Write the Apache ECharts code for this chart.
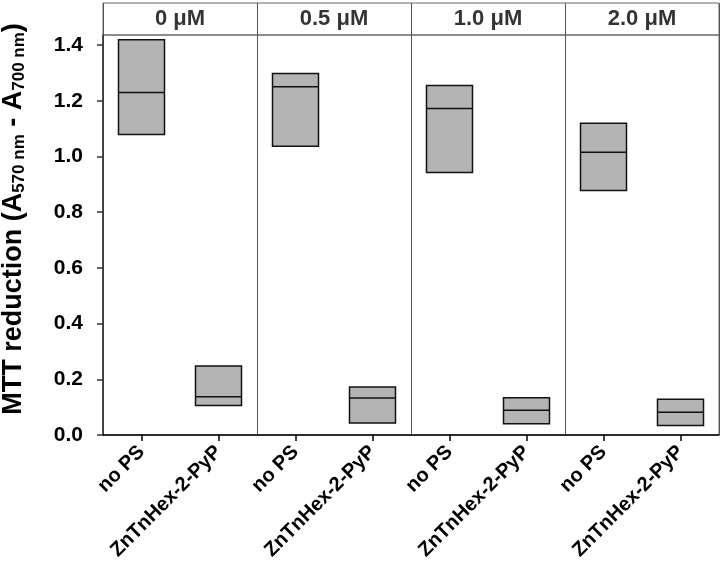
<!DOCTYPE html>
<html>
<head>
<meta charset="utf-8">
<script src="https://cdn.jsdelivr.net/npm/echarts@6/dist/echarts.min.js"></script>
<style>
html,body{margin:0;padding:0;background:#fff;}
#chart{width:722px;height:574px;}
</style>
</head>
<body>
<div id="chart"></div>
<script>
// ---- data ----
var categories = ['no PS', 'ZnTnHex-2-PyP', 'no PS', 'ZnTnHex-2-PyP', 'no PS', 'ZnTnHex-2-PyP', 'no PS', 'ZnTnHex-2-PyP'];
var panels = ['0 μM', '0.5 μM', '1.0 μM', '2.0 μM'];
var boxTop =    [1.419, 0.248, 1.298, 0.172, 1.255, 0.134, 1.119, 0.128];
var boxMedian = [1.230, 0.137, 1.250, 0.133, 1.172, 0.089, 1.015, 0.082];
var boxBottom = [1.079, 0.106, 1.037, 0.043, 0.942, 0.040, 0.878, 0.034];
var yTicks = [0, 0.2, 0.4, 0.6, 0.8, 1.0, 1.2, 1.4];
var yMax = 1.436;

// ---- build ----
var boxData = boxTop.map(function (t, i) {
  return [boxBottom[i], boxBottom[i], boxMedian[i], t, t];
});
var headerData = panels.map(function (p, i) { return [i, 0.5]; });

var FONT = 'Liberation Sans, Arial, sans-serif';
var chart = echarts.init(document.getElementById('chart'), null, {renderer: 'canvas'});
chart.setOption({
  animation: false,
  backgroundColor: '#fff',
  grid: [
    {left: 103, right: 3, top: 35, bottom: 139, show: true, borderColor: '#666', borderWidth: 1, containLabel: false, outerBoundsMode: 'none'},
    {left: 103, right: 3, top: 3, height: 32, show: true, borderColor: '#666', borderWidth: 1, containLabel: false, outerBoundsMode: 'none'}
  ],
  xAxis: [
    {
      type: 'category', gridIndex: 0, data: categories, boundaryGap: true,
      axisLine: {show: true, lineStyle: {color: '#000', width: 1.5}},
      axisTick: {show: true, alignWithLabel: true, length: 6, inside: false, lineStyle: {color: '#000', width: 1.5}},
      axisLabel: {rotate: 45, margin: 14, fontSize: 20, fontWeight: 'bold', fontFamily: FONT, color: '#000', interval: 0},
      splitLine: {show: false}
    },
    {
      type: 'category', gridIndex: 0, data: panels, position: 'top', boundaryGap: true,
      axisLine: {show: false}, axisTick: {show: false}, axisLabel: {show: false},
      splitLine: {show: true, interval: 0, lineStyle: {color: '#555', width: 1}}
    },
    {
      type: 'category', gridIndex: 1, data: panels, boundaryGap: true,
      axisLine: {show: false}, axisTick: {show: false}, axisLabel: {show: false},
      splitLine: {show: true, interval: 0, lineStyle: {color: '#555', width: 1}}
    }
  ],
  yAxis: [
    {
      type: 'value', gridIndex: 0, min: 0, max: yMax,
      name: 'MTT reduction (A{s|570 nm} - A{s|700 nm})',
      nameLocation: 'middle', nameGap: 75, nameRotate: 90,
      nameTextStyle: {
        fontSize: 27, fontWeight: 'bold', fontFamily: FONT, color: '#000',
        padding: [0, 0, 0, 32], lineHeight: 28,
        rich: {s: {fontSize: 17, fontWeight: 'bold', fontFamily: FONT, color: '#000', verticalAlign: 'bottom', lineHeight: 16}}
      },
      axisLine: {show: true, lineStyle: {color: '#333', width: 1.5}},
      axisTick: {show: true, length: 6, inside: false, customValues: yTicks, lineStyle: {color: '#333', width: 1.5}},
      axisLabel: {
        customValues: yTicks, margin: 20, fontSize: 21, fontWeight: 'bold', fontFamily: FONT, color: '#000',
        formatter: function (v) { return v.toFixed(1); }
      },
      splitLine: {show: false}
    },
    {
      type: 'value', gridIndex: 1, min: 0, max: 1, show: false
    }
  ],
  series: [
    {
      type: 'boxplot', xAxisIndex: 0, yAxisIndex: 0,
      data: boxData, boxWidth: [46, 46],
      itemStyle: {color: '#b4b4b4', borderColor: '#111', borderWidth: 1.5},
      emphasis: {disabled: true}
    },
    {
      type: 'scatter', xAxisIndex: 2, yAxisIndex: 1,
      data: headerData, symbol: 'circle', symbolSize: 1,
      itemStyle: {color: 'rgba(0,0,0,0)'},
      label: {
        show: true, position: 'inside',
        formatter: function (p) { return panels[p.dataIndex]; },
        fontSize: 22, fontWeight: 'bold', fontFamily: FONT, color: '#000'
      },
      emphasis: {disabled: true}
    }
  ]
});
</script>
</body>
</html>
